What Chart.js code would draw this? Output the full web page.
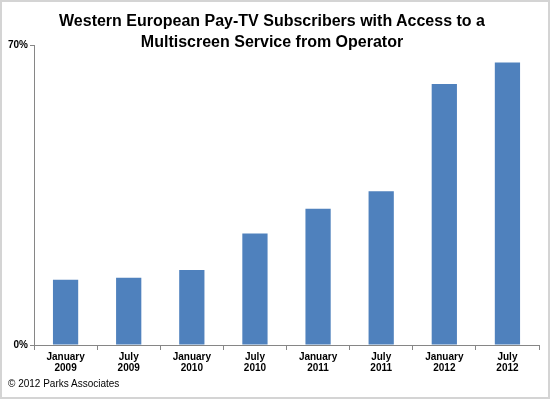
<!DOCTYPE html>
<html>
<head>
<meta charset="utf-8">
<script src="https://cdn.jsdelivr.net/npm/chart.js@4"></script>
<style>
  html, body { margin: 0; padding: 0; background: #fff; }
  #wrap {
    position: relative; width: 550px; height: 399px;
    box-sizing: border-box; border: 2px solid #d4d4d4; background: #fff;
  }
  #chart { position: absolute; left: 0; top: 0; }
  #title {
    position: absolute; left: 0; top: 8px; width: 540px; text-align: center;
    font: bold 16px/21px "Liberation Sans", Arial, sans-serif; color: #000;
  }
  #credit {
    position: absolute; left: 6px; top: 376px;
    font: 10px "Liberation Sans", Arial, sans-serif; color: #000;
  }
</style>
</head>
<body>
<div id="wrap">
  <canvas id="chart" width="546" height="395"></canvas>
  <div id="title">Western European Pay-TV Subscribers with Access to a<br>Multiscreen Service from Operator</div>
  <div id="credit">© 2012 Parks Associates</div>
</div>
<script>
// ====== Data ======
const categories = [
  ["January", "2009"], ["July", "2009"], ["January", "2010"], ["July", "2010"],
  ["January", "2011"], ["July", "2011"], ["January", "2012"], ["July", "2012"]
];
const subscribers = [15.2, 15.7, 17.5, 26.0, 31.8, 35.9, 60.9, 65.9];
const yTicks = [0, 70];

const font = "'Liberation Sans', Arial, sans-serif";

// ====== Chart ======
const ctx = document.getElementById("chart").getContext("2d");
new Chart(ctx, {
  type: "bar",
  data: {
    labels: categories,
    datasets: [{
      data: subscribers,
      backgroundColor: "#4F81BD",
      borderWidth: 0,
      barPercentage: 0.4,
      categoryPercentage: 1
    }]
  },
  options: {
    responsive: false,
    animation: false,
    layout: { padding: { left: 4, right: 9, top: 43, bottom: 21 } },
    plugins: {
      legend: { display: false },
      tooltip: { enabled: false },
      title: { display: false }
    },
    scales: {
      x: {
        offset: true,
        grid: { offset: true, drawOnChartArea: false, color: "#868686", tickLength: 5 },
        border: { color: "#868686" },
        ticks: {
          color: "#000",
          font: { family: font, size: 10, weight: "bold", lineHeight: 1.1 },
          padding: 2,
          maxRotation: 0
        }
      },
      y: {
        min: 0,
        max: 70,
        afterBuildTicks: (axis) => { axis.ticks = yTicks.map(v => ({ value: v })); },
        grid: { drawOnChartArea: false, color: "#868686", tickLength: 4 },
        border: { color: "#868686" },
        ticks: {
          color: "#000",
          font: { family: font, size: 10, weight: "bold" },
          padding: 2,
          callback: (v) => v + "%"
        }
      }
    }
  }
});
</script>
</body>
</html>
